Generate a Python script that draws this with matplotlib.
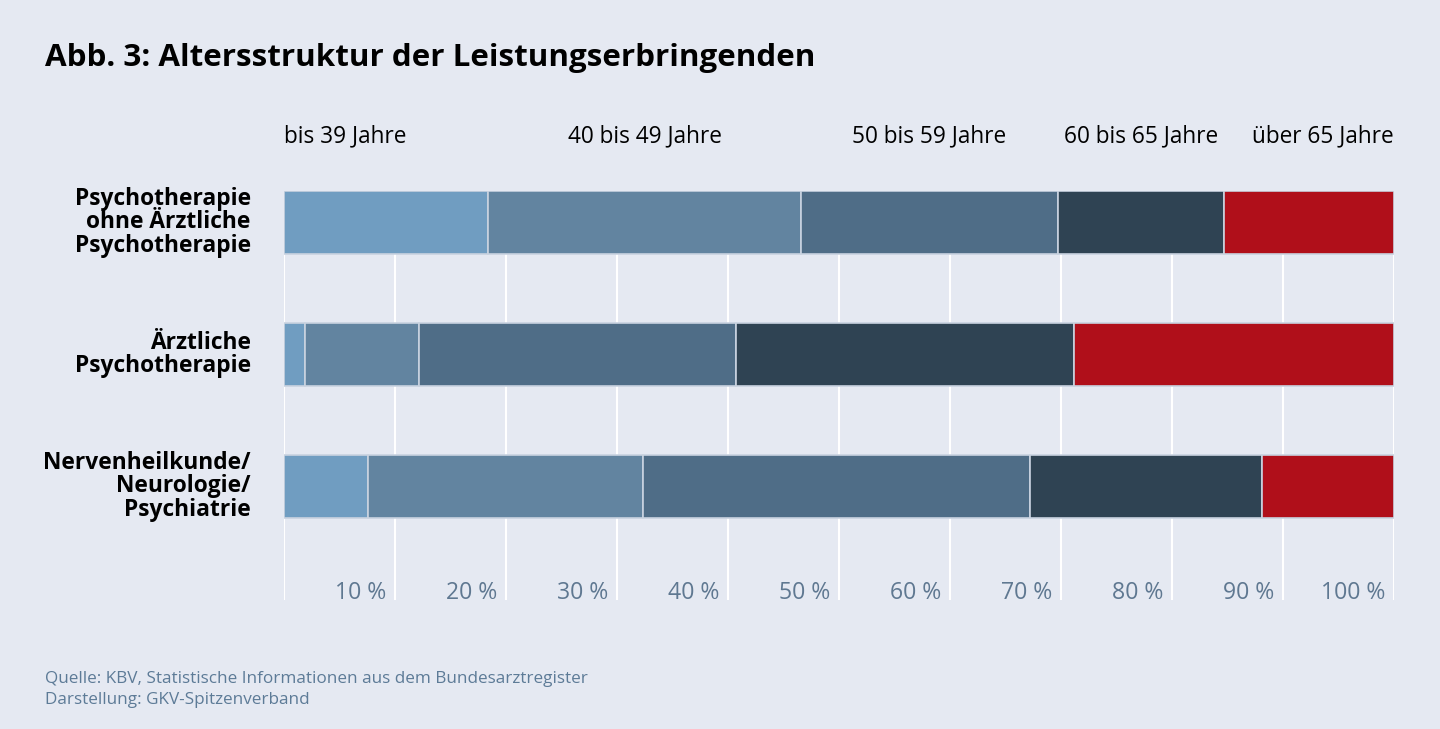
import numpy as np
import matplotlib
matplotlib.use('Agg')
import matplotlib.pyplot as plt

plt.rcParams['font.family'] = ['Open Sans', 'DejaVu Sans']

categories = ['Psychotherapie\nohne Ärztliche\nPsychotherapie',
              'Ärztliche\nPsychotherapie',
              'Nervenheilkunde/\nNeurologie/\nPsychiatrie']
age_groups = ['bis 39 Jahre', '40 bis 49 Jahre', '50 bis 59 Jahre',
              '60 bis 65 Jahre', 'über 65 Jahre']
bis39 = [18.4, 1.9, 7.6]
j40_49 = [28.2, 10.3, 24.7]
j50_59 = [23.1, 28.5, 34.9]
j60_65 = [15.0, 30.5, 20.9]
ueber65 = [15.3, 28.8, 11.9]
ticks = [10, 20, 30, 40, 50, 60, 70, 80, 90, 100]
tick_labels = ['10 %', '20 %', '30 %', '40 %', '50 %', '60 %', '70 %', '80 %', '90 %', '100 %']

colors = ['#709dc1', '#6284a0', '#4f6d87', '#2f4353', '#b00f1a']
bg = '#e5e9f2'
series = [bis39, j40_49, j50_59, j60_65, ueber65]

fig = plt.figure(figsize=(14.4, 7.29), dpi=100, facecolor=bg)
ax = fig.add_axes([284/1440, 1-600/729, 1110/1440, 409/729])
ax.set_facecolor(bg)

h = 0.477
y = np.arange(len(categories))
left = np.zeros(len(categories))
for vals, c in zip(series, colors):
    vals = np.array(vals)
    ax.barh(y, vals, left=left, height=h, color=c, edgecolor='#c9d3e0',
            linewidth=1.2, zorder=3)
    left += vals

ax.set_xlim(0, 100)
ax.set_ylim(2 + 0.86, -h/2)
for t in [0] + ticks:
    ax.axvline(t, color='white', lw=1.5, zorder=1)
for t, lab in zip(ticks, tick_labels):
    ax.text(t - 0.8, 2.85, lab, ha='right', va='baseline', fontsize=16.6,
            color='#5f7891')

for s in ax.spines.values():
    s.set_visible(False)
ax.set_xticks([])
ax.set_yticks([])

for yi, cat in zip(y, categories):
    ax.text(-3.0, yi, cat, ha='right', va='center', fontsize=16.4,
            fontweight='bold', linespacing=0.97, color='black')

# header labels centred over the first bar's segments
starts = np.cumsum([0] + [s[0] for s in series])
for i, name in enumerate(age_groups):
    mid = (starts[i] + starts[i+1]) / 2
    if i == 0:
        ax.text(0, -0.65, name, ha='left', va='center', fontsize=16.3)
    elif i == len(age_groups) - 1:
        ax.text(100, -0.65, name, ha='right', va='center', fontsize=16.3)
    else:
        ax.text(mid, -0.65, name, ha='center', va='center', fontsize=16.3)

fig.text(45/1440, 1-58/729, 'Abb. 3: Altersstruktur der Leistungserbringenden',
         fontsize=22.6, fontweight='bold', ha='left', va='center')
fig.text(45/1440, 1-679/729, 'Quelle: KBV, Statistische Informationen aus dem Bundesarztregister',
         fontsize=12.3, color='#5d7b97', ha='left', va='center')
fig.text(45/1440, 1-700/729, 'Darstellung: GKV-Spitzenverband',
         fontsize=12.3, color='#5d7b97', ha='left', va='center')

fig.savefig('out.png', dpi=100, facecolor=bg)
